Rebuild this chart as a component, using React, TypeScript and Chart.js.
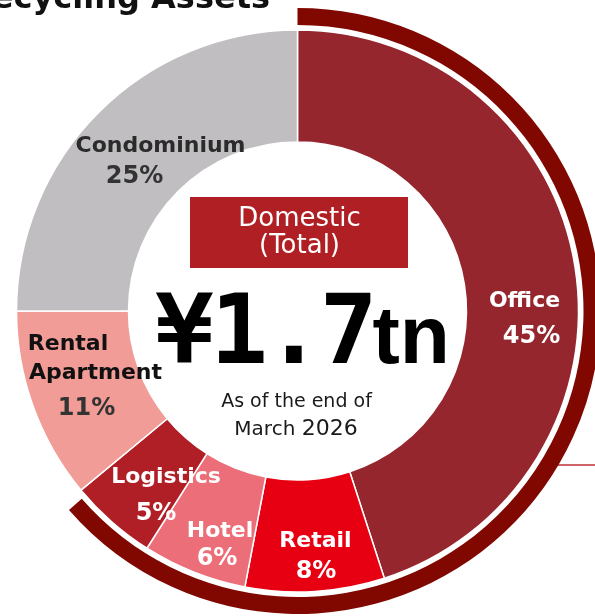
import { useEffect, useRef } from 'react';
import { Chart, registerables } from 'chart.js';

Chart.register(...registerables);

// ---- data ----
const TITLE = 'Recycling Assets';
const categories = ['Office', 'Retail', 'Hotel', 'Logistics', 'Rental Apartment', 'Condominium'];
const nameLines = [['Office'], ['Retail'], ['Hotel'], ['Logistics'], ['Rental', 'Apartment'], ['Condominium']];
const shares = [45, 8, 6, 5, 11, 25];
const ringShares = [63.6, 36.4];
const centerHeading = ['Domestic', '(Total)'];
const totalAmount = '¥1.7';
const totalUnit = 'tn';
const asOfLine1 = 'As of the end of';
const asOfMonth = 'March';
const asOfYear = '2026';

// ---- style ----
const sliceColors = ['#95262E', '#E60012', '#EC6E78', '#B01F26', '#F19C96', '#C0BEC1'];
const ringColor = '#800800';
const headingBoxColor = '#B01F24';
const FONT = '"DejaVu Sans", Verdana, sans-serif';

// offsets (px) from chart centre for label lines
const labelLayout = [
  { color: '#ffffff', pctColor: '#ffffff', name: [[227, -4]], pct: [234, 32] },
  { color: '#ffffff', pctColor: '#ffffff', name: [[18, 236]], pct: [18.5, 267] },
  { color: '#ffffff', pctColor: '#ffffff', name: [[-77.5, 226]], pct: [-80.5, 254] },
  { color: '#ffffff', pctColor: '#ffffff', name: [[-131.5, 172]], pct: [-141.5, 209] },
  { color: '#111111', pctColor: '#333333', name: [[-229.5, 39], [-202, 68]], pct: [-211, 104] },
  { color: '#2b2b2b', pctColor: '#333333', name: [[-137, -159]], pct: [-163, -128] },
];

const overlayPlugin = {
  id: 'overlay',
  beforeDatasetsDraw(chart: any) {
    const ctx = chart.ctx as CanvasRenderingContext2D;
    const arc = chart.getDatasetMeta(2).data[0] as any;
    const cx = arc.x, cy = arc.y;
    ctx.save();
    ctx.strokeStyle = '#C0303A';
    ctx.lineWidth = 1.5;
    ctx.beginPath();
    ctx.moveTo(cx + 250, cy + 154);
    ctx.lineTo(chart.width, cy + 154);
    ctx.stroke();
    ctx.restore();
  },
  afterDatasetsDraw(chart: any) {
    const ctx = chart.ctx as CanvasRenderingContext2D;
    const arc = chart.getDatasetMeta(2).data[0] as any;
    const cx = arc.x, cy = arc.y;
    ctx.save();
    ctx.textBaseline = 'alphabetic';

    // title (clipped at top-left like the reference crop)
    ctx.fillStyle = '#111111';
    ctx.font = `bold 32px ${FONT}`;
    ctx.textAlign = 'right';
    ctx.fillText(TITLE, 270, 8);

    // slice labels
    ctx.textAlign = 'center';
    categories.forEach((_, i) => {
      const lay = labelLayout[i];
      ctx.font = `bold 22px ${FONT}`;
      ctx.fillStyle = lay.color;
      nameLines[i].forEach((line, j) => {
        const [dx, dy] = lay.name[j];
        ctx.fillText(line, cx + dx, cy + dy);
      });
      ctx.font = `bold 24px ${FONT}`;
      ctx.fillStyle = lay.pctColor;
      ctx.fillText(`${shares[i]}%`, cx + lay.pct[0], cy + lay.pct[1]);
    });

    // heading box
    ctx.fillStyle = headingBoxColor;
    ctx.fillRect(cx - 107.5, cy - 114, 218, 71);
    ctx.fillStyle = '#ffffff';
    ctx.font = `26px ${FONT}`;
    ctx.fillText(centerHeading[0], cx + 2, cy - 85);
    ctx.fillText(centerHeading[1], cx + 2, cy - 58);

    // total
    ctx.fillStyle = '#000000';
    ctx.font = `bold 96px "DejaVu Sans Mono", monospace`;
    (ctx as any).letterSpacing = '-3px';
    ctx.fillText(totalAmount, cx - 32.5, cy + 52);
    (ctx as any).letterSpacing = '0px';
    ctx.textAlign = 'left';
    ctx.font = `bold 82px "Liberation Sans", Arial, sans-serif`;
    ctx.fillText(totalUnit, cx + 75, cy + 52);

    // as-of text
    ctx.fillStyle = '#1a1a1a';
    ctx.textAlign = 'center';
    ctx.font = `19px ${FONT}`;
    ctx.fillText(asOfLine1, cx - 1, cy + 96);
    ctx.font = `20px ${FONT}`;
    const mW = ctx.measureText(asOfMonth + ' ').width;
    ctx.font = `22px ${FONT}`;
    const yW = ctx.measureText(asOfYear).width;
    const startX = cx - 1.5 - (mW + yW) / 2;
    ctx.textAlign = 'left';
    ctx.font = `20px ${FONT}`;
    ctx.fillText(asOfMonth + ' ', startX, cy + 124);
    ctx.font = `22px ${FONT}`;
    ctx.fillText(asOfYear, startX + mW, cy + 124);
    ctx.restore();
  },
};

export default function App() {
  const ref = useRef<HTMLCanvasElement | null>(null);
  useEffect(() => {
    if (!ref.current) return;
    const outerR = 303;
    const innerR = 169;
    const chart = new Chart(ref.current, {
      type: 'doughnut',
      data: {
        labels: categories,
        datasets: [
          {
            data: ringShares,
            backgroundColor: [ringColor, 'rgba(0,0,0,0)'],
            borderWidth: 0,
            weight: 17,
          } as any,
          {
            data: [1],
            backgroundColor: ['rgba(0,0,0,0)'],
            borderWidth: 0,
            weight: 5,
          } as any,
          {
            data: shares,
            backgroundColor: sliceColors,
            borderColor: '#ffffff',
            borderWidth: 1.5,
            weight: 112,
          } as any,
        ],
      },
      options: {
        responsive: false,
        animation: false,
        devicePixelRatio: 1,
        events: [],
        radius: outerR,
        cutout: `${(innerR / outerR) * 100}%`,
        layout: { padding: { top: 6 } },
        plugins: {
          legend: { display: false },
          tooltip: { enabled: false },
        },
      } as any,
      plugins: [overlayPlugin],
    });
    return () => chart.destroy();
  }, []);
  return (
    <div style={{ position: 'absolute', left: 0, top: 0, width: 595, height: 616, background: '#fff', overflow: 'hidden' }}>
      <canvas ref={ref} width={595} height={616} style={{ display: 'block', width: 595, height: 616 }} />
    </div>
  );
}
